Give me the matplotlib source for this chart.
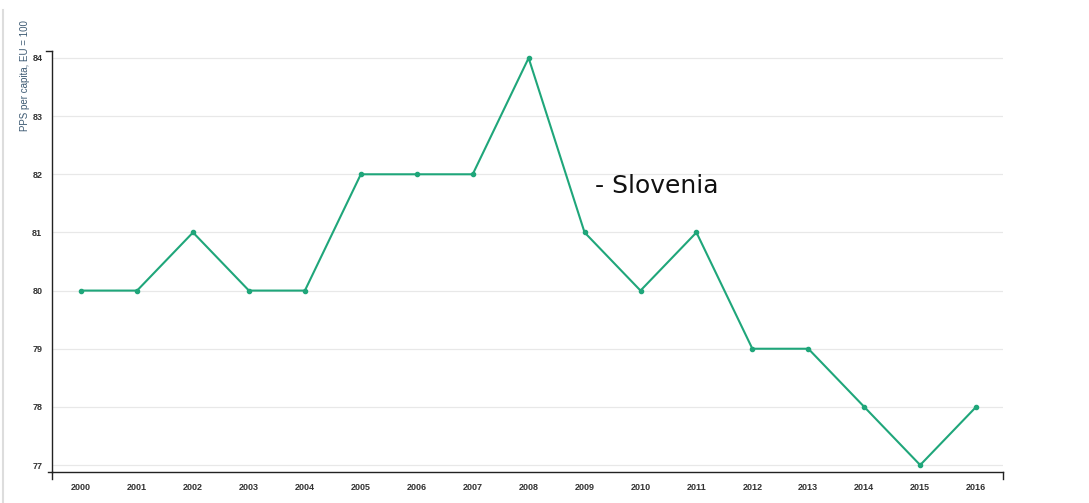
import matplotlib.pyplot as plt
from matplotlib.lines import Line2D

# ── Data ──────────────────────────────────────────────────────────────────────
years = list(range(2000, 2017))
pps_values = [80, 80, 81, 80, 80, 82, 82, 82, 84, 81, 80, 81, 79, 79, 78, 77, 78]
y_ticks = [77, 78, 79, 80, 81, 82, 83, 84]
series_label = "- Slovenia"
y_label = "PPS per capita, EU = 100"

LINE_COLOR = "#1fa67a"

# ── Figure ────────────────────────────────────────────────────────────────────
fig = plt.figure(figsize=(10.89, 5.03), dpi=100)
ax = fig.add_axes([0.0478, 0.0616, 0.8732, 0.837])

ax.plot(years, pps_values, color=LINE_COLOR, lw=1.5, marker="o", ms=3,
        zorder=3, clip_on=False)

ax.set_xlim(1999.48, 2016.48)
ax.set_ylim(76.88, 84.12)
ax.set_xticks(years)
ax.set_xticklabels([str(y) for y in years], fontsize=6.5, fontweight="bold",
                   color="#333333", family="Liberation Sans")
ax.set_yticks(y_ticks)
ax.set_yticklabels([str(v) for v in y_ticks], fontsize=6.5, fontweight="bold",
                   color="#333333", family="Liberation Sans")
ax.tick_params(axis="both", length=0)
ax.tick_params(axis="x", pad=8)
ax.tick_params(axis="y", pad=7)

ax.grid(axis="y", color="#e8e8e8", lw=0.9, zorder=0)
ax.set_axisbelow(True)

for side in ("top", "right"):
    ax.spines[side].set_visible(False)
for side in ("left", "bottom"):
    ax.spines[side].set_color("#222222")
    ax.spines[side].set_linewidth(1.0)

# outer domain ticks (d3 style)
tk = dict(color="#222222", lw=1.0, transform=ax.transAxes, clip_on=False)
ax.add_line(Line2D([-0.0065, 0], [1, 1], **tk))
ax.add_line(Line2D([-0.0045, 0], [0, 0], **tk))
ax.add_line(Line2D([0, 0], [0, -0.017], **tk))
ax.add_line(Line2D([1, 1], [0, -0.017], **tk))

# y axis title, placed above-left like the original
fig.text(25 / 1089, 1 - 20 / 503, y_label, rotation=90, ha="center", va="top",
         fontsize=7, color="#3d5a73", family="Liberation Sans")

ax.text(2009.18, 81.8, series_label, fontsize=18, color="#111111",
        family="DejaVu Sans", ha="left", va="center")

# light border on the left
fig.add_artist(Line2D([0.003, 0.003], [0.0, 0.98], color="#dddddd", lw=1.5,
                      transform=fig.transFigure))

fig.savefig("out.png", dpi=100)
